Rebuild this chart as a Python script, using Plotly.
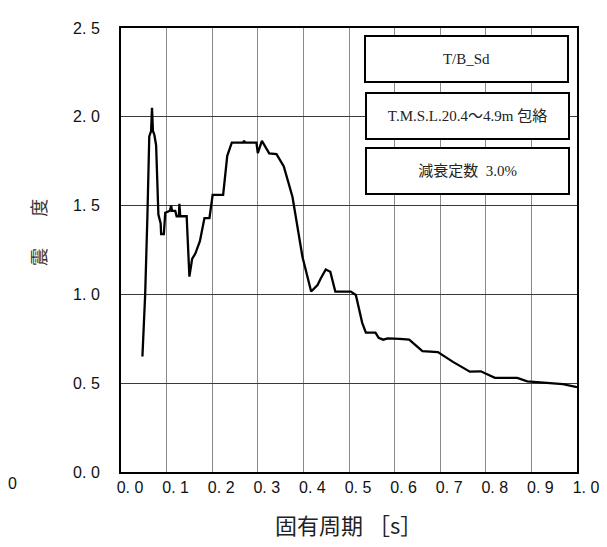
import plotly.graph_objects as go

period = [0.047, 0.049, 0.053, 0.058, 0.062, 0.066, 0.068, 0.070, 0.073, 0.077,
          0.082, 0.087, 0.088, 0.094, 0.097, 0.107, 0.110, 0.112, 0.119, 0.122,
          0.127, 0.128, 0.130, 0.144, 0.150, 0.156, 0.163, 0.173, 0.183, 0.194,
          0.201, 0.224, 0.233, 0.243, 0.268, 0.270, 0.272, 0.297, 0.300, 0.309,
          0.325, 0.341, 0.357, 0.376, 0.398, 0.417, 0.431, 0.438, 0.449, 0.459,
          0.470, 0.504, 0.515, 0.529, 0.537, 0.558, 0.565, 0.575, 0.585, 0.611,
          0.632, 0.661, 0.695, 0.728, 0.765, 0.789, 0.820, 0.869, 0.891, 0.969, 1.0]
accel = [0.65, 0.75, 1.00, 1.45, 1.89, 1.92, 2.05, 1.92, 1.90, 1.84,
         1.45, 1.40, 1.34, 1.34, 1.46, 1.47, 1.50, 1.47, 1.47, 1.44,
         1.44, 1.51, 1.44, 1.44, 1.10, 1.20, 1.23, 1.30, 1.43, 1.43,
         1.56, 1.56, 1.78, 1.855, 1.855, 1.865, 1.855, 1.855, 1.795, 1.864,
         1.794, 1.79, 1.72, 1.55, 1.21, 1.016, 1.053, 1.09, 1.14, 1.127,
         1.016, 1.016, 0.997, 0.84, 0.785, 0.785, 0.755, 0.745, 0.752, 0.75,
         0.745, 0.68, 0.675, 0.62, 0.565, 0.567, 0.53, 0.53, 0.51, 0.495, 0.478]

x_ticks = [0.0, 0.1, 0.2, 0.3, 0.4, 0.5, 0.6, 0.7, 0.8, 0.9, 1.0]
x_labels = ["0. 0", "0. 1", "0. 2", "0. 3", "0. 4", "0. 5", "0. 6", "0. 7", "0. 8", "0. 9", "1. 0"]
y_ticks = [0.0, 0.5, 1.0, 1.5, 2.0, 2.5]
y_labels = ["0. 0", "0. 5", "1. 0", "1. 5", "2. 0", "2. 5"]
legend_texts = ["T/B_Sd", "T.M.S.L.20.4～4.9m 包絡", "減衰定数  3.0%"]

W, H = 607, 547
OFF = 8  # page body margin
# plot area in screen pixels: x 121..577.5, y 20..472
L, T = 121 - OFF, 20 - OFF
R = W - (577.5 - OFF)
B = H - (472 - OFF)
pw, ph = W - L - R, H - T - B

def px(xs):
    return (xs - OFF - L) / pw

def py(ys):
    return (H - B - (ys - OFF)) / ph

fig = go.Figure()
fig.add_trace(go.Scatter(x=period, y=accel, mode="lines",
                         line=dict(color="black", width=2.3), showlegend=False))

tickfont = dict(family="Liberation Sans", size=16, color="#111")

fig.update_layout(
    width=W, height=H,
    margin=dict(l=L, r=R, t=T, b=B),
    paper_bgcolor="white", plot_bgcolor="white",
    xaxis=dict(range=[0, 1.0], tickvals=x_ticks, ticktext=x_labels,
               showgrid=True, gridcolor="#8a8a8a", gridwidth=1,
               showline=True, linecolor="black", linewidth=2, mirror=True,
               ticks="", tickfont=tickfont, zeroline=False, ticklabelshift=9),
    yaxis=dict(range=[0, 2.5], tickvals=y_ticks, ticktext=y_labels,
               showgrid=True, gridcolor="#3a3a3a", gridwidth=1,
               showline=True, linecolor="black", linewidth=2, mirror=True,
               ticks="", tickfont=tickfont, zeroline=False, ticklabelstandoff=16),
)

boxes = [(466.5, 52.0), (468.2, 109.2), (468.2, 166.0)]
for txt, (cx, cy) in zip(legend_texts, boxes):
    fig.add_annotation(xref="paper", yref="paper", x=px(cx), y=py(cy),
                       xanchor="center", yanchor="middle",
                       text=txt, showarrow=False, width=201, height=44,
                       align="center", valign="middle",
                       bgcolor="white", bordercolor="black", borderwidth=2, borderpad=0,
                       font=dict(family="Liberation Serif, Noto Sans CJK JP", size=15, color="#222"))

# axis titles
fig.add_annotation(xref="paper", yref="paper", x=px(349), y=py(525),
                   xanchor="center", yanchor="middle",
                   text="固有周期 ［s］", showarrow=False,
                   font=dict(family="Noto Sans CJK JP", size=22, color="#222"))
fig.add_annotation(xref="paper", yref="paper", x=px(38), y=py(203),
                   xanchor="center", yanchor="middle",
                   text="度", showarrow=False, textangle=-90,
                   font=dict(family="Noto Sans CJK JP", size=18, color="#333"))
fig.add_annotation(xref="paper", yref="paper", x=px(38), y=py(253),
                   xanchor="center", yanchor="middle",
                   text="震", showarrow=False, textangle=-90,
                   font=dict(family="Noto Sans CJK JP", size=18, color="#333"))
fig.add_annotation(xref="paper", yref="paper", x=px(6), y=py(484),
                   xanchor="left", yanchor="middle",
                   text="0", showarrow=False, font=tickfont)

fig.write_html("out.html")
